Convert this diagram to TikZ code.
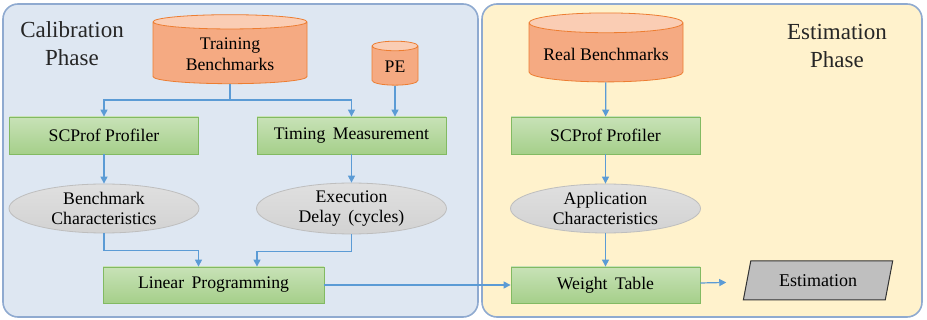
\documentclass[tikz,border=0pt]{standalone}
\usepackage{fontspec}
\setmainfont{Liberation Serif}
\newfontfamily\diagfont{Liberation Serif}
\usetikzlibrary{arrows.meta, positioning, shapes.geometric}

\definecolor{flowblue}{RGB}{91,155,213}
\definecolor{calfill}{RGB}{222,231,242}
\definecolor{estfill}{RGB}{255,242,204}
\definecolor{panelline}{RGB}{143,170,208}
\definecolor{greentop}{RGB}{200,226,183}
\definecolor{greenbot}{RGB}{165,207,138}
\definecolor{greenline}{RGB}{130,186,98}
\definecolor{orangebody}{RGB}{245,170,130}
\definecolor{orangetop}{RGB}{250,205,180}
\definecolor{orangeline}{RGB}{237,125,49}
\definecolor{grayfill}{RGB}{210,210,210}
\definecolor{grayline}{RGB}{190,190,190}

\begin{document}
\begin{tikzpicture}[x=1pt, y=-1pt,
    font=\diagfont\fontsize{17.7}{20.5}\selectfont,
    panel/.style={draw=panelline, line width=1.6pt, rounded corners=15pt},
    phase/.style={align=center, text=black!85, font=\diagfont\fontsize{23}{28}\selectfont},
    proc/.style={draw=greenline, line width=0.8pt, top color=greentop, bottom color=greenbot, minimum width=189pt, minimum height=37pt, inner sep=2pt},
    store/.style={cylinder, shape border rotate=90, draw=orangeline, line width=0.8pt, cylinder uses custom fill, cylinder body fill=orangebody, cylinder end fill=orangetop, align=center},
    chars/.style={ellipse, draw=grayline, line width=0.8pt, top color=grayfill!70, bottom color=grayfill, minimum width=190pt, minimum height=49pt, inner sep=0pt, align=center},
    arr/.style={-{Triangle[length=7pt, width=7pt]}, draw=flowblue, line width=1.2pt}
]
    \useasboundingbox (0,0) rectangle (927,320);

    % Phase panels
    \draw[panel, fill=calfill] (3,4) rectangle (478,317);
    \draw[panel, fill=estfill] (482,4) rectangle (922,317);
    \node[phase] (caltitle) at (72,44) {Calibration\\Phase};
    \node[phase] (esttitle) at (837,46) {Estimation\\Phase};

    % Calibration phase
    \node[store, minimum width=154pt, minimum height=69pt, aspect=0.15] (train) at (230,54) {Training\\Benchmarks};
    \node[store, minimum width=46pt, minimum height=44pt, aspect=0.35] (pe) at (395,67) {PE};
    \node[proc] (prof1) at (104,135.5) {SCProf Profiler};
    \node[proc] (timing) at (351.5,135.5) {Timing\, Measurement};
    \node[chars] (bench) at (104,208.5) {Benchmark\\Characteristics};
    \node[chars] (delay) at (351.5,208.5) {Execution\\Delay\, (cycles)};
    \node[proc, minimum width=221pt, minimum height=36pt] (linprog) at (213.5,285) {Linear\, Programming};

    % Estimation phase
    \node[store, minimum width=154pt, minimum height=69pt, aspect=0.15] (real) at (606,54) {Real Benchmarks};
    \node[proc] (prof2) at (605.5,135.5) {SCProf Profiler};
    \node[chars] (app) at (605.5,208.5) {Application\\Characteristics};
    \node[proc, minimum height=36pt] (weight) at (605.5,285) {Weight\, Table};
    \node[trapezium, trapezium left angle=76, trapezium right angle=104, trapezium stretches=true,
          draw=black!80, line width=1pt, fill=black!25, minimum width=150pt, minimum height=39pt,
          font=\diagfont\fontsize{18}{20}\selectfont] (estim) at (818,280.5) {Estimation};

    % Connect
    \draw[arr] (train.south) -- (train.south |- 0,100) -| (prof1.north);
    \draw[arr] (train.south) -- (train.south |- 0,100) -| (timing.north);
    \draw[arr] (pe.south) -- (pe.south |- timing.north);
    \draw[arr] (prof1) -- (bench);
    \draw[arr] (timing) -- (delay);
    \draw[arr] (bench.south) -- ++(0,17) -| ([xshift=-15pt]linprog.north);
    \draw[arr] (delay.south) -- ++(0,17) -| ([xshift=43.5pt]linprog.north);
    \draw[arr] (linprog) -- (weight);
    \draw[arr] (real) -- (prof2);
    \draw[arr] (prof2) -- (app);
    \draw[arr] (app) -- (weight);
    \draw[arr, shorten >=20pt] (weight) -- (estim);
\end{tikzpicture}
\end{document}
